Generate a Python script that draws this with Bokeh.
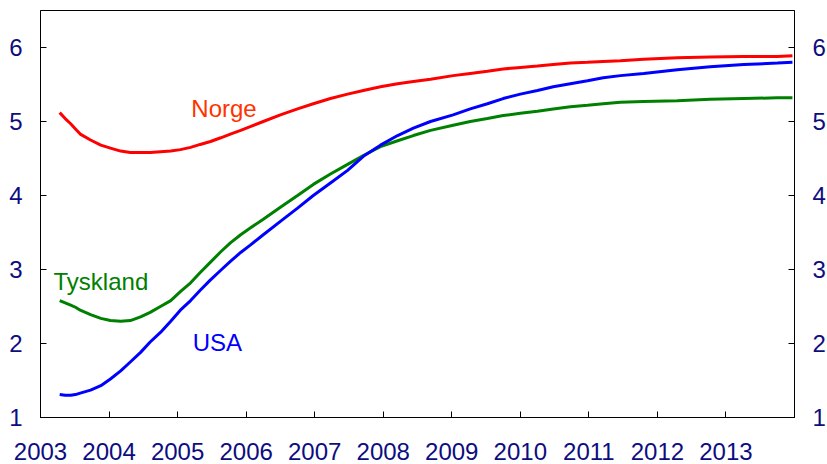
from bokeh.plotting import figure
from bokeh.models import Range1d, LinearAxis, FixedTicker, ColumnDataSource, Label
from bokeh.embed import file_html
from bokeh.resources import INLINE

# decimal years
dates = [2003.28, 2003.36, 2003.44, 2003.51, 2003.58, 2003.73, 2003.88, 2004.02,
         2004.17, 2004.31, 2004.46, 2004.60, 2004.75, 2004.90, 2005.04, 2005.19,
         2005.33, 2005.48, 2005.63, 2005.77, 2005.92, 2006.06, 2006.25, 2006.50,
         2006.75, 2006.98, 2007.23, 2007.48, 2007.71, 2007.96, 2008.21, 2008.44,
         2008.69, 2009.02, 2009.27, 2009.52, 2009.75, 2010.00, 2010.25, 2010.48,
         2010.73, 2010.98, 2011.21, 2011.46, 2011.80, 2012.29, 2012.77, 2013.26,
         2013.75, 2013.97]

norge = [5.12, 5.04, 4.97, 4.90, 4.83, 4.75, 4.68, 4.64, 4.60, 4.58, 4.58, 4.58,
         4.59, 4.60, 4.62, 4.65, 4.69, 4.73, 4.78, 4.83, 4.88, 4.93, 5.00, 5.09,
         5.17, 5.24, 5.31, 5.37, 5.42, 5.47, 5.51, 5.54, 5.57, 5.62, 5.65, 5.68,
         5.71, 5.73, 5.75, 5.77, 5.79, 5.80, 5.81, 5.82, 5.84, 5.86, 5.87, 5.88,
         5.88, 5.89]

usa = [1.31, 1.30, 1.30, 1.31, 1.33, 1.37, 1.43, 1.52, 1.63, 1.75, 1.88, 2.02,
       2.15, 2.30, 2.45, 2.58, 2.72, 2.86, 2.99, 3.11, 3.23, 3.33, 3.47, 3.65,
       3.83, 4.00, 4.17, 4.34, 4.53, 4.68, 4.81, 4.91, 5.00, 5.09, 5.17, 5.24,
       5.31, 5.37, 5.42, 5.47, 5.51, 5.55, 5.59, 5.62, 5.65, 5.70, 5.74, 5.77,
       5.79, 5.80]

tyskland = [2.58, 2.55, 2.52, 2.49, 2.45, 2.39, 2.34, 2.31, 2.30, 2.31, 2.36, 2.42,
            2.50, 2.58, 2.70, 2.82, 2.96, 3.10, 3.24, 3.36, 3.47, 3.56, 3.68, 3.84,
            4.00, 4.15, 4.29, 4.42, 4.54, 4.66, 4.74, 4.81, 4.88, 4.95, 5.00, 5.04,
            5.08, 5.11, 5.14, 5.17, 5.20, 5.22, 5.24, 5.26, 5.27, 5.28, 5.30, 5.31,
            5.32, 5.32]

year_ticks = list(range(2003, 2014))
y_ticks = [1, 2, 3, 4, 5, 6]

FONT = "Liberation Sans"
NAVY = "#0d0d80"
FS = "24px"

src = ColumnDataSource(dict(date=dates, norge=norge, usa=usa, tyskland=tyskland))

p = figure(frame_width=754, frame_height=407,
           x_range=Range1d(2003, 2014), y_range=Range1d(1, 6.5),
           output_backend="svg", toolbar_location=None,
           min_border_left=40, min_border_right=33, min_border_top=10, min_border_bottom=53,
           background_fill_color="white", border_fill_color="white")

p.outline_line_color = "black"
p.outline_line_width = 1
p.xgrid.visible = False
p.ygrid.visible = False

p.line("date", "norge", source=src, line_color="#ff0000", line_width=3)
p.line("date", "tyskland", source=src, line_color="#008000", line_width=3)
p.line("date", "usa", source=src, line_color="#0000ff", line_width=3)

def style_axis(ax):
    ax.axis_line_color = "black"
    ax.axis_line_width = 1
    ax.major_tick_in = 6
    ax.major_tick_out = 0
    ax.minor_tick_line_color = None
    ax.major_tick_line_color = "black"
    ax.major_label_text_font = FONT
    ax.major_label_text_font_size = FS
    ax.major_label_text_color = NAVY

xa = p.xaxis[0]
xa.ticker = FixedTicker(ticks=year_ticks)
style_axis(xa)
xa.major_label_standoff = 25

ya = p.yaxis[0]
ya.ticker = FixedTicker(ticks=y_ticks)
style_axis(ya)
ya.major_label_standoff = 18

ra = LinearAxis(ticker=FixedTicker(ticks=y_ticks))
style_axis(ra)
ra.major_label_standoff = 18
p.add_layout(ra, "right")

labels = [("Norge", 2005.20, 5.18, "#ff3300"),
          ("Tyskland", 2003.19, 2.84, "#008000"),
          ("USA", 2005.22, 2.01, "#0000ff")]
for txt, lx, ly, col in labels:
    p.add_layout(Label(x=lx, y=ly, text=txt, text_color=col, text_font=FONT,
                       text_font_size=FS, text_baseline="alphabetic", text_align="left"))

open("out.html", "w").write(file_html(p, INLINE))
